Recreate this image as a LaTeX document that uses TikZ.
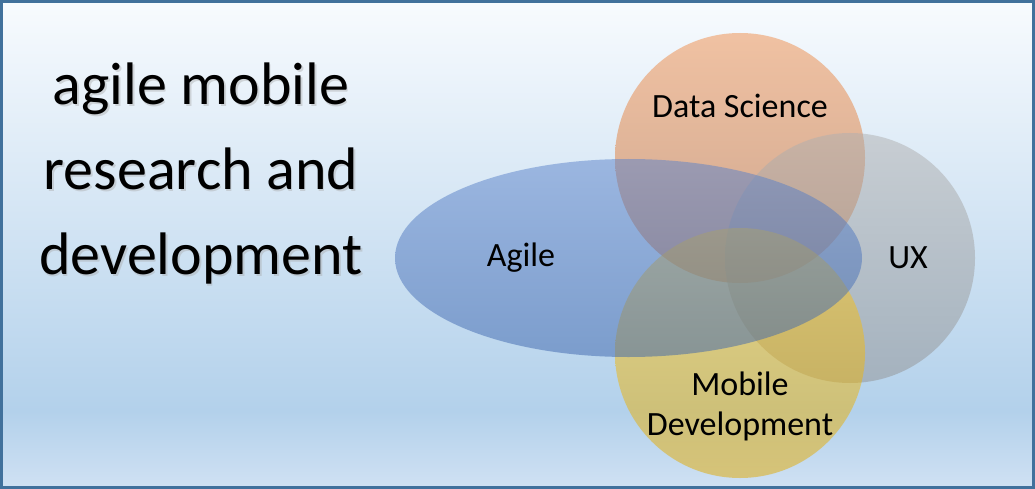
\documentclass[tikz,border=0pt]{standalone}
\usepackage{fontspec}
\setmainfont{Carlito}
\definecolor{bgtop}{RGB}{248,251,254}
\definecolor{bgmid}{RGB}{179,209,235}
\definecolor{bgbot}{RGB}{208,225,243}
\definecolor{frame}{RGB}{65,113,156}
\definecolor{cblue}{RGB}{68,114,196}
\definecolor{corange}{RGB}{237,125,49}
\definecolor{cgray}{RGB}{165,165,165}
\definecolor{cgold}{RGB}{255,192,0}
% page background: light at the top, deepest blue near the foot
\pgfdeclareverticalshading{panel}{100bp}{%
  color(0bp)=(bgbot); color(25bp)=(bgbot); color(33bp)=(bgmid);
  color(75bp)=(bgtop); color(100bp)=(bgtop)}
\tikzset{
  set/.style={fill opacity=0.5, draw=none,
    top color=#1!88!white, bottom color=#1!88!black},
  setlabel/.style={font=\fontsize{34}{40}\selectfont, text=black, align=center},
  title/.style={font=\fontsize{60}{85}\selectfont, align=center, text=black,
    inner sep=0pt}
}
\begin{document}
\begin{tikzpicture}[x=1pt,y=-1pt]
  \useasboundingbox (0,0) rectangle (1035,489);
  \shade[shading=panel] (0,0) rectangle (1035,489);
  \draw[frame, line width=3pt] (1.5,1.5) rectangle (1033.5,487.5);

  % four overlapping sets
  \path[set=corange] (740,158) circle[radius=125];
  \path[set=cgray]   (850,258) circle[radius=125];
  \path[set=cgold]   (740,353) circle[radius=125];
  \path[set=cblue]   (628.5,258) ellipse[x radius=233.5, y radius=99];

  \node[setlabel] (ds) at (740,106) {Data Science};
  \node[setlabel] (ux) at (908,258) {UX};
  \node[setlabel] (ag) at (521,258) {Agile};
  \node[setlabel] (md) at (740,406) {Mobile\\Development};

  % heading with a soft drop shadow
  \node[title, text=black!35, opacity=0.4] at (202.5,175.5) {agile mobile\\research and\\development};
  \node[title] (head) at (201,174) {agile mobile\\research and\\development};
\end{tikzpicture}
\end{document}
